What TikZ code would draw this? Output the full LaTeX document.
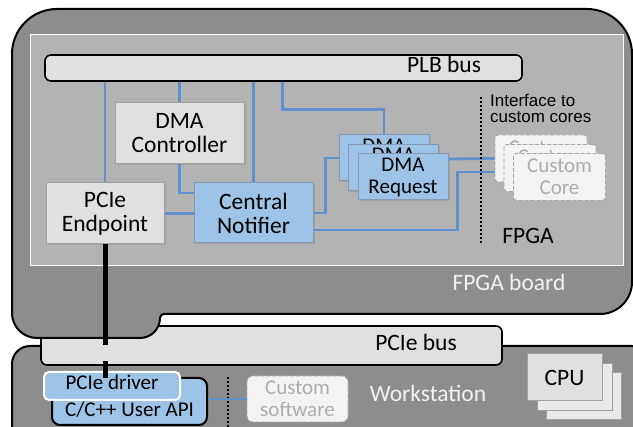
\documentclass[tikz,border=0pt]{standalone}
\usepackage{fontspec}
\setmainfont{Carlito}
\newfontfamily\arialf{Liberation Sans}
\usetikzlibrary{shadows}

\definecolor{boardgray}{RGB}{141,141,141}
\definecolor{fpgagray}{RGB}{179,179,179}
\definecolor{boxgray}{RGB}{224,224,224}
\definecolor{backgray}{RGB}{233,233,233}
\definecolor{boxedge}{RGB}{160,160,160}
\definecolor{boxblue}{RGB}{157,195,230}
\definecolor{blueedge}{RGB}{135,152,178}
\definecolor{wirecol}{RGB}{95,145,205}
\definecolor{ghost}{RGB}{243,243,243}
\definecolor{ghosttext}{RGB}{172,172,172}
\definecolor{ghostedge}{RGB}{165,165,165}
\definecolor{lightlabel}{RGB}{242,242,242}

\newcommand\bigfont{\fontsize{23.5}{24}\selectfont}
\newcommand\midfont{\fontsize{21}{22}\selectfont}

\pgfdeclarelayer{base}
\pgfdeclarelayer{wirelayer}
\pgfsetlayers{base,wirelayer,main}

\begin{document}
\begin{tikzpicture}[x=1pt,y=-1pt,
  sz/.style 2 args={minimum width=#1pt, minimum height=#2pt},
  shade/.style={drop shadow={shadow xshift=1.5pt, shadow yshift=-1.5pt, opacity=0.3}},
  blk/.style={draw=boxedge, line width=1pt, fill=boxgray, inner sep=0pt,
    align=center, font=\bigfont, shade},
  bblk/.style={blk, draw=blueedge, fill=boxblue},
  req/.style={bblk, font=\midfont},
  ghostbox/.style={draw=ghostedge, line width=0.9pt, dash pattern=on 4pt off 2pt,
    fill=ghost, rounded corners=3pt, inner sep=0pt, align=center,
    font=\midfont, text=ghosttext},
  bus/.style={draw=black, line width=1.6pt, fill=boxgray, rounded corners=6pt,
    inner sep=0pt},
  txt/.style={inner sep=0pt, font=\bigfont, text height=1.38ex, text depth=0pt},
  wire/.style={draw=wirecol, line width=2.8pt},
  fence/.style={draw=black, line width=2.5pt, dash pattern=on 2pt off 2pt},
  cpubox/.style={draw=boxedge, line width=1pt, fill=#1, inner sep=0pt,
    font=\bigfont, sz={75}{47}},
]
\useasboundingbox (0,0) rectangle (633,427);

% ---------- chassis shapes ----------
\begin{pgfonlayer}{base}
  % workstation
  \draw[line width=2pt, fill=boardgray, rounded corners=18pt]
    (12,346) rectangle (650,460);
  % PCIe bus
  \node[bus, sz={461}{39}] (pciebus) at (271.5,345.5) {};
  % FPGA board
  \draw[line width=2pt, fill=boardgray]
    (12,54) arc[start angle=180, end angle=270, radius=45]
    -- (587,9) arc[start angle=270, end angle=360, radius=45]
    -- (632,282) arc[start angle=0, end angle=90, radius=32]
    -- (164,314) arc[start angle=270, end angle=180, radius=4]
    arc[start angle=0, end angle=90, radius=20]
    -- (37,338) arc[start angle=90, end angle=180, radius=25]
    -- cycle;
  % FPGA die
  \draw[white, line width=1pt, fill=fpgagray] (30,35) rectangle (623,266);
\end{pgfonlayer}

% ---------- FPGA contents ----------
\node[bus, sz={477}{26}] (plb) at (283.5,68) {};
\node[txt] (plblabel) at (444,69) {PLB bus};

\node[blk, sz={129}{61}] (dmac) at (179.5,133.5) {DMA\\Controller};
\node[blk, sz={118}{61}] (pcie) at (105,213.5) {PCIe\\Endpoint};
\node[bblk, sz={119}{60}] (cn) at (253.5,213) {Central\\Notifier};

\node[req, sz={90}{46}] (dmar1) at (384,158) {DMA\\Request};
\node[req, sz={90}{46}] (dmar2) at (393.5,167.5) {DMA\\Request};
\node[req, sz={90}{46}] (dmar3) at (403,177) {DMA\\Request};

\node[ghostbox, sz={92}{47}] (cc1) at (541,158.5) {Custom\\Core};
\node[ghostbox, sz={92}{47}] (cc2) at (550,168) {Custom\\Core};
\node[ghostbox, sz={92}{47}] (cc3) at (559.5,177) {Custom\\Core};

% interconnect
\begin{pgfonlayer}{wirelayer}
  \draw[wire] (plb.south -| pcie.north) -- (pcie.north);
  \draw[wire] (plb.south -| dmac.north) -- (dmac.north);
  \draw[wire] (plb.south -| cn.north) -- (cn.north);
  \draw[wire] ([xshift=238pt]plb.south west) -- ++(0,28) -| (dmar1.north);
  \draw[wire] (dmac.south) |- ([yshift=20pt]cn.west);
  \draw[wire] (pcie.east) -- (pcie.east -| cn.west);
  \draw[wire] (cn.east) -- ++(12,0) |- (dmar1.west);
  \draw[wire] ([yshift=-17pt]cn.east) -| ([xshift=-37pt,yshift=-13.5pt]cc1.west)
    -- ([yshift=-13.5pt]cc1.west);
  \draw[wire] ([yshift=18pt]dmar3.east) -- (cc1.west);
\end{pgfonlayer}

% boundary towards the custom cores
\coordinate (ftop) at (481,97);
\coordinate (fbot) at (481,243);
\draw[fence] (ftop) -- (fbot);
\node[anchor=west, inner sep=0pt, align=left,
  font=\arialf\fontsize{17}{16}\selectfont] (iface) at (490,108)
  {Interface to\\custom cores};

\node[txt] (fpgalabel) at (528,240) {FPGA};
\node[txt, text=lightlabel] (boardlabel) at (509,287) {FPGA board};

% ---------- workstation contents ----------
\node[txt] (pciebuslabel) at (416,347) {PCIe bus};

% the API box is taller than its text line; the label sits in its lower half
\node[draw=black, line width=2pt, fill=boxblue, rounded corners=8pt,
  sz={155}{47}, inner sep=0pt, font=\midfont, text height=31pt, text depth=0pt]
  (api) at (129.5,401.5) {C/C++ User API};
\node[draw=white, line width=2pt, fill=boxblue, rounded corners=5pt,
  sz={136}{28}, txt, font=\midfont] (drv) at (112,386) {PCIe driver};

% PCIe link
\coordinate (linkA) at (105,345);
\coordinate (linkB) at (105,361);
\coordinate (linkC) at (105,378);
\draw[line width=5pt] (pcie.south) -- (linkA);
\draw[line width=5pt] (linkB) -- (linkC);

\coordinate (stop) at (228,377);
\coordinate (sbot) at (228,432);
\draw[fence, line width=2pt] (stop) -- (sbot);

\node[ghostbox, rounded corners=6pt, sz={101}{46}] (csw) at (297.5,399)
  {Custom\\software};
\draw[draw=wirecol, line width=1.8pt] (api.east |- csw.west) -- (csw.west);

\node[txt, text=lightlabel] (wslabel) at (428,398.5) {Workstation};

\node[cpubox=backgray] (cpu3) at (584,396.5) {};
\node[cpubox=backgray] (cpu2) at (574.5,387.5) {};
\node[cpubox=boxgray] (cpu1) at (564.5,377.5) {CPU};
\end{tikzpicture}
\end{document}
